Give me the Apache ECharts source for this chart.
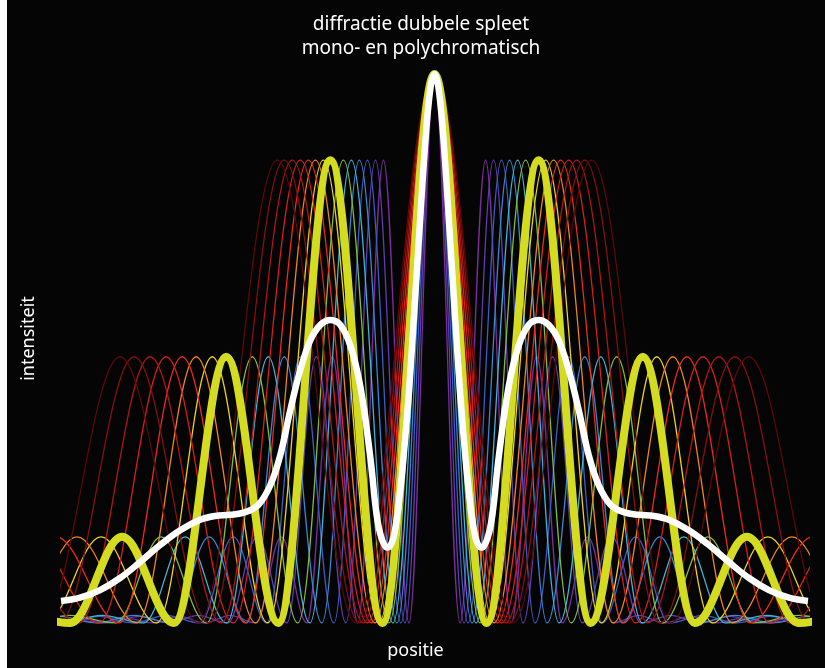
<!DOCTYPE html>
<html><head><meta charset="utf-8">
<script src="https://cdn.jsdelivr.net/npm/echarts@6/dist/echarts.min.js"></script>
<style>html,body{margin:0;padding:0;background:#fff}#c{width:825px;height:668px;background:linear-gradient(to right,#fff 0,#fff 7px,#050505 7px)}</style>
</head><body><div id="c"></div><script>
// fringe spacing (peak-to-peak, in position units) of each thin wavelength curve
const thinSpacings = [51, 59, 67, 75, 83, 91, 111, 119, 126, 134, 142, 150, 157];
// spacing of the highlighted monochromatic (yellow) curve
const monoSpacing = 104;
// peak intensity of each interference order 0,1,2,...
const orderPeaks = [1, 0.843, 0.485, 0.157, 0.014, 0.012, 0.008, 0.005, 0.003];
// polychromatic (white) curve: position offset from centre and intensity
const whiteOffsets = [0, 4, 9, 18, 26, 34, 41, 47, 53, 58, 64, 74, 84, 94, 104, 114, 124, 134, 144, 154, 164, 176, 189, 204, 219, 234, 254, 274, 294, 314, 334, 354, 373];
const whiteValues = [1, 0.975, 0.88, 0.63, 0.41, 0.245, 0.155, 0.137, 0.155, 0.2, 0.3, 0.43, 0.505, 0.543, 0.552, 0.543, 0.515, 0.461, 0.388, 0.306, 0.251, 0.215, 0.202, 0.197, 0.195, 0.188, 0.169, 0.142, 0.111, 0.082, 0.06, 0.046, 0.04];
const xLimit = 373;

// styles
const thinColors = ['#7b2d9b', '#5d3fae', '#3f5cc0', '#3b86cf', '#42b4d6', '#84bc42', '#f0d21c', '#f08420', '#ee2a1e', '#d81e1e', '#b01616', '#861010', '#5c0808'];

// curve through the read peaks (at each order) and dark fringes (between orders)
function fringePoints(s) {
  const pts = [];
  const K = Math.ceil(2 * (xLimit + s) / s);
  for (let k = -K; k <= K; k++) {
    const n = Math.abs(k) / 2;
    const v = (k % 2 === 0) ? (orderPeaks[n] !== undefined ? orderPeaks[n] : 0) : 0;
    pts.push([k * s / 2, v]);
  }
  return pts;
}
function whitePoints() {
  const pts = [];
  for (let i = whiteOffsets.length - 1; i > 0; i--) pts.push([-whiteOffsets[i], whiteValues[i]]);
  for (let i = 0; i < whiteOffsets.length; i++) pts.push([whiteOffsets[i], whiteValues[i]]);
  return pts;
}

const series = [];
thinSpacings.forEach((s, i) => {
  series.push({
    type: 'line', data: fringePoints(s), symbol: 'none', smooth: 0.36, smoothMonotone: 'x',
    lineStyle: { color: thinColors[i], width: 1.3 }, silent: true, z: 2
  });
});
series.push({
  type: 'line', data: fringePoints(monoSpacing), symbol: 'none', smooth: 0.36, smoothMonotone: 'x',
  lineStyle: { color: '#d3dc20', width: 8 }, silent: true, z: 3
});
series.push({
  type: 'line', data: whitePoints(), symbol: 'none', smooth: 0.4,
  lineStyle: { color: '#ffffff', width: 6.5 }, silent: true, z: 4
});

const FONT = '"Noto Sans", "Open Sans", sans-serif';
const chart = echarts.init(document.getElementById('c'), null, { renderer: 'canvas' });
chart.setOption({
  backgroundColor: 'transparent',
  animation: false,
  title: {
    text: 'diffractie dubbele spleet\nmono- en polychromatisch',
    left: 416, top: 8, textAlign: 'center',
    textStyle: { color: '#ffffff', fontSize: 19, fontWeight: 'normal', lineHeight: 24, fontFamily: FONT }
  },
  grid: { left: 61, right: 17, top: 74, bottom: 45 },
  xAxis: {
    type: 'value', min: -xLimit, max: xLimit,
    name: 'positie', nameLocation: 'middle', nameGap: 19,
    nameTextStyle: { color: '#ffffff', fontSize: 18, fontFamily: FONT, padding: [0, 38, 0, 0] },
    axisLine: { show: false }, axisTick: { show: false }, axisLabel: { show: false }, splitLine: { show: false }
  },
  yAxis: {
    type: 'value', min: 0, max: 1,
    name: 'intensiteit', nameLocation: 'middle', nameGap: 23, nameRotate: 90,
    nameTextStyle: { color: '#ffffff', fontSize: 18, fontFamily: FONT, padding: [0, 0, 0, 20] },
    axisLine: { show: false }, axisTick: { show: false }, axisLabel: { show: false }, splitLine: { show: false }
  },
  series: series
});
</script></body></html>
